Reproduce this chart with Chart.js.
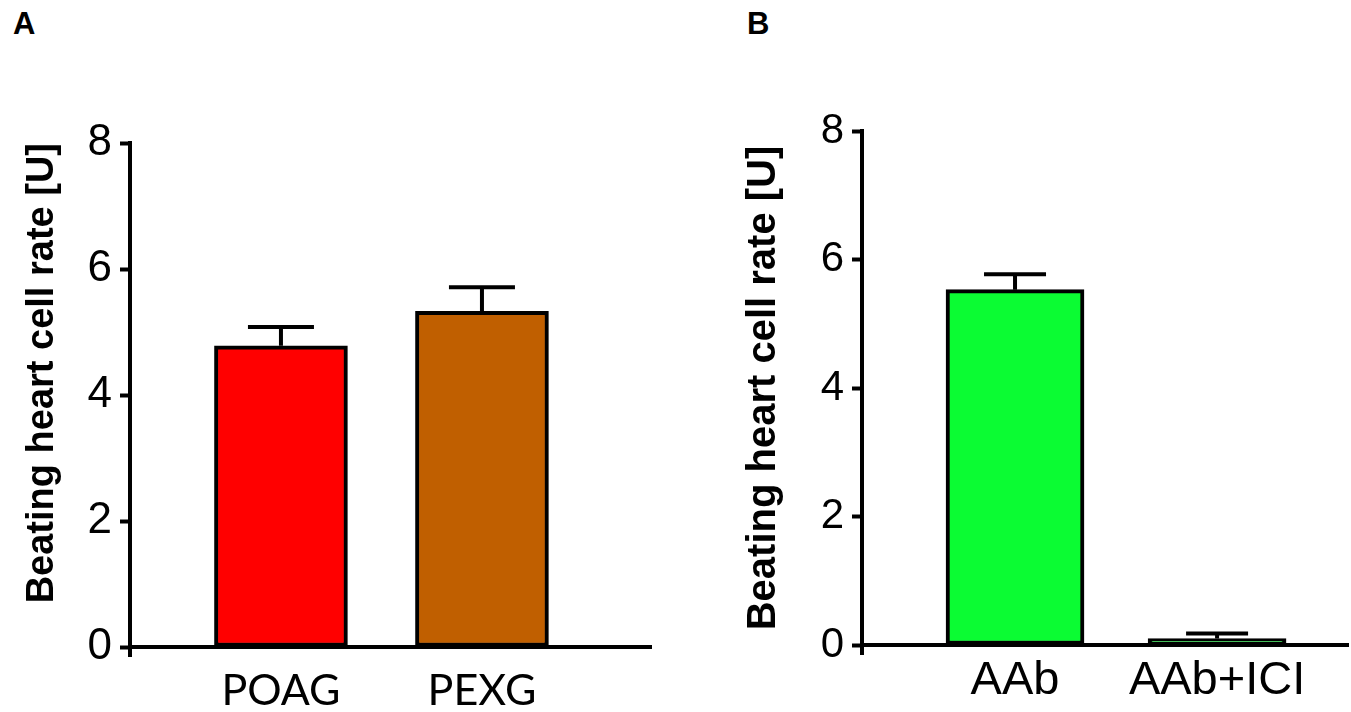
<!DOCTYPE html>
<html>
<head>
<meta charset="utf-8">
<script src="https://cdn.jsdelivr.net/npm/chart.js@4.4.1/dist/chart.umd.min.js"></script>
<style>
  html, body { margin: 0; padding: 0; background: #fff; }
  body { width: 1351px; height: 712px; position: relative; overflow: hidden; }
  .panel { position: absolute; top: 0; height: 712px; }
  .letter { position: absolute; top: 6px; font: bold 31px 'Liberation Sans', Arial, sans-serif; color: #000; }
</style>
</head>
<body>
<div class="letter" style="left:13px">A</div>
<div class="letter" style="left:747px">B</div>
<div class="panel" style="left:0; width:680px"><canvas id="chartA"></canvas></div>
<div class="panel" style="left:700px; width:651px"><canvas id="chartB"></canvas></div>
<script>
// panel A
const categoriesA = ['POAG', 'PEXG'];
const meansA = [4.78, 5.33];
const semA = [0.30, 0.38];
const colorsA = ['#ff0000', '#c05f00'];

// panel B
const categoriesB = ['AAb', 'AAb+ICI'];
const meansB = [5.53, 0.1];
const semB = [0.24, 0.08];
const colorsB = ['#0bfc33', '#0bfc33'];

const yTicks = [0, 2, 4, 6, 8];
const yTitle = 'Beating heart cell rate [U]';

// upper error bars + the little stub of the y axis below the x axis
const errorBars = {
  id: 'errorBars',
  afterDatasetsDraw(chart, args, opts) {
    const {ctx, chartArea: {left, bottom}, scales: {y}} = chart;
    const meta = chart.getDatasetMeta(0);
    ctx.save();
    ctx.strokeStyle = '#000';
    ctx.lineWidth = 4;
    meta.data.forEach((bar, i) => {
      const top = y.getPixelForValue(opts.means[i]);
      const err = y.getPixelForValue(opts.means[i] + opts.sem[i]);
      ctx.beginPath();
      ctx.moveTo(bar.x, top);
      ctx.lineTo(bar.x, err);
      ctx.moveTo(bar.x - opts.cap / 2, err);
      ctx.lineTo(bar.x + opts.cap / 2, err);
      ctx.stroke();
    });
    ctx.beginPath();
    ctx.moveTo(left, bottom);
    ctx.lineTo(left, bottom + 10);
    ctx.stroke();
    ctx.restore();
  }
};

function makeChart(id, cats, means, sem, colors, o) {
  return new Chart(document.getElementById(id), {
    type: 'bar',
    data: {
      datasets: [{
        data: means.map((v, i) => ({x: i + 1, y: v})),
        backgroundColor: colors,
        borderColor: '#000',
        borderWidth: 4,
        borderSkipped: false,
        barThickness: o.barWidth
      }]
    },
    options: {
      responsive: true,
      maintainAspectRatio: false,
      animation: false,
      layout: { padding: o.padding },
      plugins: {
        legend: { display: false },
        tooltip: { enabled: false },
        errorBars: { means: means, sem: sem, cap: o.cap }
      },
      scales: {
        x: {
          type: 'linear',
          offset: false,
          min: o.xMin,
          max: o.xMax,
          afterBuildTicks(scale) { scale.ticks = cats.map((c, i) => ({value: i + 1})); },
          afterFit(scale) { scale.height = o.xHeight; },
          grid: { display: false, drawTicks: false, offset: false },
          border: { color: '#000', width: 4 },
          ticks: {
            autoSkip: false,
            maxRotation: 0,
            padding: o.xPad,
            color: '#000',
            font: { family: o.xFont, size: o.xSize },
            callback: (v, i) => cats[i]
          }
        },
        y: {
          min: 0,
          max: 8,
          afterBuildTicks(scale) { scale.ticks = yTicks.map(v => ({value: v})); },
          afterFit(scale) { scale.width = o.yWidth; },
          grid: { drawOnChartArea: false, drawTicks: true, tickLength: 10, tickWidth: 4, tickColor: '#000' },
          border: { color: '#000', width: 4 },
          ticks: {
            padding: 8,
            color: '#000',
            font: { family: "'Liberation Sans', Arial, sans-serif", size: o.ySize }
          },
          title: {
            display: true,
            text: yTitle,
            align: o.titleAlign,
            color: '#000',
            padding: { top: o.titlePad, bottom: 0 },
            font: { family: "'Liberation Sans', Arial, sans-serif", size: o.titleSize, weight: 'bold' }
          }
        }
      }
    },
    plugins: [errorBars]
  });
}

makeChart('chartA', categoriesA, meansA, semA, colorsA, {
  padding: { top: 143, right: 29, bottom: 0, left: 0 },
  xMin: 0.249, xMax: 2.841, xHeight: 65, yWidth: 130,
  barWidth: 133, cap: 66, xPad: 18,
  xFont: "Lato, 'Liberation Sans', sans-serif", xSize: 43,
  ySize: 44, titleSize: 38, titlePad: 20, titleAlign: 'end'
});

makeChart('chartB', categoriesB, meansB, semB, colorsB, {
  padding: { top: 131, right: 3, bottom: 0, left: 0 },
  xMin: 0.2426, xMax: 2.648, xHeight: 67, yWidth: 162,
  barWidth: 138, cap: 62, xPad: 8,
  xFont: "'Liberation Sans', Arial, sans-serif", xSize: 47,
  ySize: 42, titleSize: 40, titlePad: 40, titleAlign: 'center'
});
</script>
</body>
</html>
